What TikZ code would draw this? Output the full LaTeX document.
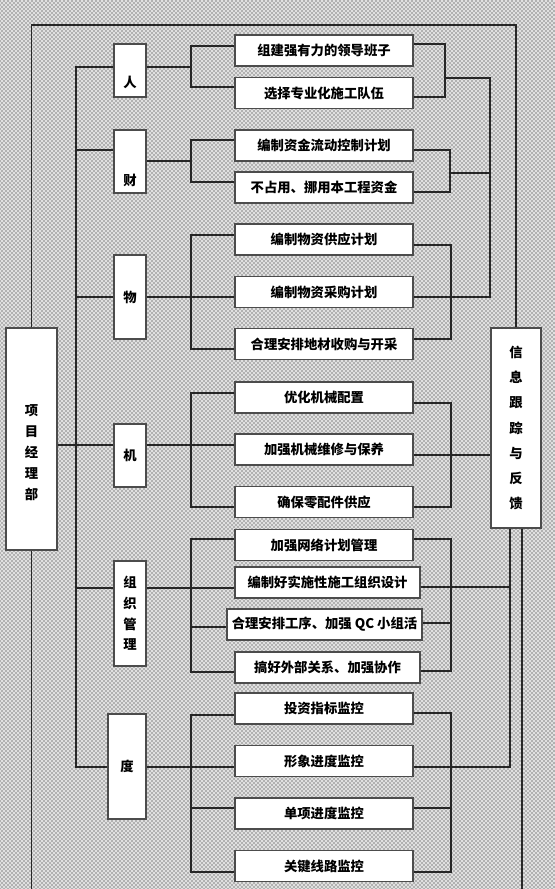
\documentclass[tikz,border=0pt]{standalone}
\usepackage{fontspec}
\setmainfont{Noto Sans CJK SC}
\usetikzlibrary{patterns,calc}

\begin{document}
\begin{tikzpicture}[x=0.75pt,y=-0.75pt,
    linea/.style={draw=black!85, line width=0.8pt},
    caja/.style={draw=black!70, line width=0.9pt, fill=white, inner sep=0pt,
        font=\bfseries\fontsize{10}{12}\selectfont},
    item/.style={caja, minimum width=133.5pt, minimum height=23.25pt},
    cat/.style={caja, minimum width=24pt, align=center}]

    \useasboundingbox (0,0) rectangle (555,889);

    % Fondo punteado
        \fill[black!12] (0,0) rectangle (555,889);
        \fill[pattern=crosshatch dots, pattern color=black!90] (0,0) rectangle (555,889);

    % Cajas laterales
        \node[caja, minimum width=38.25pt, minimum height=166.5pt,
              label={[yshift=-10pt, align=center, font=\bfseries\fontsize{10}{15.75}\selectfont]center:项\\目\\经\\理\\部}]
              (pm) at (31.5,439) {};
        \node[caja, minimum width=37.5pt, minimum height=150pt, align=center,
              font=\bfseries\fontsize{10}{18.9}\selectfont] (info) at (516,428) {信\\息\\跟\\踪\\与\\反\\馈};

    % Categorias
        \node[cat, minimum height=39.75pt, label={[yshift=-8.6pt, font=\bfseries\fontsize{10}{12}\selectfont]center:人}] (ren) at (130,70.5) {};
        \node[cat, minimum height=47.25pt, label={[yshift=-13.9pt, font=\bfseries\fontsize{10}{12}\selectfont]center:财}] (cai) at (130,161.5) {};
        \node[cat, minimum height=63pt] (wu) at (130,297) {物};
        \node[cat, minimum height=47.25pt] (ji) at (130,455.5) {机};
        \node[cat, minimum height=78.75pt, font=\bfseries\fontsize{10}{15.5}\selectfont] (zz) at (130,613.5) {组\\织\\管\\理};
        \node[cat, minimum width=28.5pt, minimum height=78.75pt] (du) at (127,766.5) {度};

    % Medidas
        \node[item] (i1) at (324,50.5) {组建强有力的领导班子};
        \node[item] (i2) at (324,93) {选择专业化施工队伍};
        \node[item] (i3) at (324,145.5) {编制资金流动控制计划};
        \node[item] (i4) at (324,187.5) {不占用、挪用本工程资金};
        \node[item] (i5) at (324,239.5) {编制物资供应计划};
        \node[item] (i6) at (324,292) {编制物资采购计划};
        \node[item] (i7) at (324,344) {合理安排地材收购与开采};
        \node[item] (i8) at (324,397.5) {优化机械配置};
        \node[item] (i9) at (324,449.5) {加强机械维修与保养};
        \node[item] (i10) at (324,502) {确保零配件供应};
        \node[item] (i11) at (324,545) {加强网络计划管理};
        \node[item, minimum width=138.75pt] (i12) at (327.5,582.5) {编制好实施性施工组织设计};
        \node[item, minimum width=146.25pt] (i13) at (324.5,624.5) {合理安排工序、加强 QC 小组活};
        \node[item, minimum width=138.75pt] (i14) at (327.5,667.5) {搞好外部关系、加强协作};
        \node[item] (i15) at (324,708.5) {投资指标监控};
        \node[item] (i16) at (324,761) {形象进度监控};
        \node[item] (i17) at (324,813.5) {单项进度监控};
        \node[item] (i18) at (324,866) {关键线路监控};

    % Lazo exterior
        \draw[linea] (pm.north) -- (pm.north |- 0,25) -| (info.north);
        \draw[linea] (pm.south) -- (pm.south |- 0,889);
        \draw[linea] ($(info.south)+(6,0)$) -- ($(info.south)+(6,361)$);

    % Tronco
        \draw[linea] (ren.west |- 0,67) -| (76,767) -- (du.west |- 0,767);
        \draw[linea] (cai.west |- 0,150) -- (76,150);
        \draw[linea] (wu.west) -- (wu.west -| 76,0);
        \draw[linea] (pm.east |- 0,445) -- (ji.west |- 0,445);
        \draw[linea] (zz.west |- 0,588) -- (76,588);

    % Corchetes izquierdos
        \draw[linea] (ren.east |- 0,67) -- (191,67);
        \draw[linea] (i1.west |- 0,46) -| (191,87) -- (i2.west |- 0,87);

        \draw[linea] (cai.east |- 0,161) -- (191,161);
        \draw[linea] (i3.west |- 0,140) -| (191,182) -- (i4.west |- 0,182);

        \draw[linea] (wu.east) -- (wu.east -| i6.west);
        \draw[linea] (i5.west |- 0,235) -| (191,349) -- (i7.west |- 0,349);

        \draw[linea] (ji.east |- 0,445) -- (i9.west |- 0,445);
        \draw[linea] (i8.west |- 0,393) -| (191,507) -- (i10.west |- 0,507);

        \draw[linea] (zz.east |- 0,588) -- (i12.west |- 0,588);
        \draw[linea] (i11.west |- 0,539) -| (191,672) -- (i14.west |- 0,672);
        \draw[linea] (191,627) -- (i13.west |- 0,627);

        \draw[linea] (du.east |- 0,767) -- (i16.west |- 0,767);
        \draw[linea] (i15.west |- 0,715) -| (191,872) -- (i18.west |- 0,872);
        \draw[linea] (191,808) -- (i17.west |- 0,808);

    % Corchetes derechos
        \draw[linea] (i1.east |- 0,44) -| (445,97) -- (i2.east |- 0,97);
        \draw[linea] (445,78) -- (490,78) -- (490,297) -- (i6.east |- 0,297);

        \draw[linea] (i3.east |- 0,150) -| (450,192) -- (i4.east |- 0,192);
        \draw[linea] (450,173) -- (490,173);

        \draw[linea] (i5.east |- 0,245) -| (451,339) -- (i7.east |- 0,339);

        \draw[linea] (i8.east |- 0,403) -| (451,507) -- (i10.east |- 0,507);
        \draw[linea] (i9.east |- 0,455) -- (info.west |- 0,455);

        \draw[linea] (i11.east |- 0,539) -| (451,671) -- (i14.east |- 0,671);
        \draw[linea] (i13.east |- 0,623) -- (451,623);
        \draw[linea] (i12.east |- 0,587) -- (510,587);

        \draw[linea] (i15.east |- 0,713) -| (451,872) -- (i18.east |- 0,872);
        \draw[linea] (i17.east |- 0,808) -- (451,808);
        \draw[linea] (i16.east |- 0,767) -| ($(info.south)+(-6,0)$);

\end{tikzpicture}
\end{document}
